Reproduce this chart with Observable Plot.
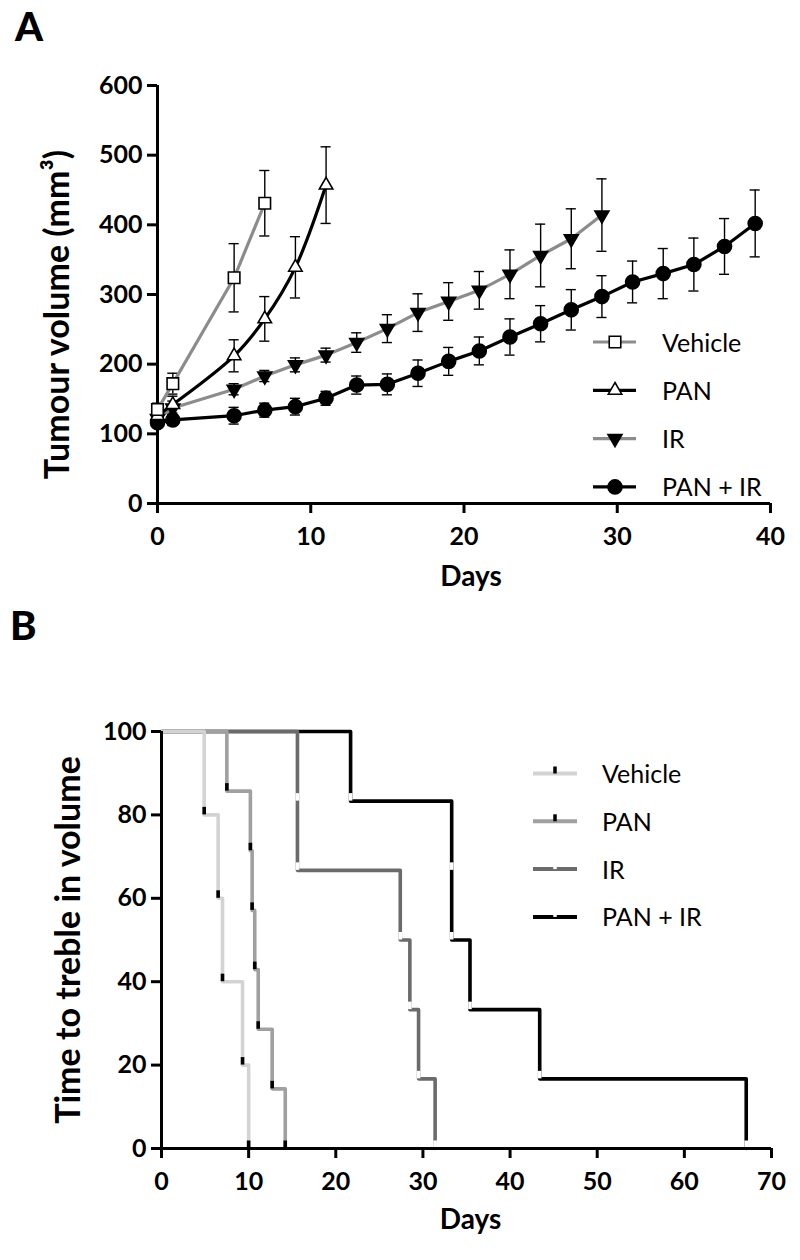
<!DOCTYPE html>
<html><head><meta charset="utf-8">
<script src="https://cdn.jsdelivr.net/npm/d3@7"></script>
<script src="https://cdn.jsdelivr.net/npm/@observablehq/plot@0.6"></script>
<style>
body{margin:0;background:#fff;}
#wrap{position:relative;width:800px;height:1260px;font-family:Lato, sans-serif;overflow:hidden;background:#fff;}
.panel{position:absolute;left:0;}
.tag{position:absolute;font-weight:900;font-size:40px;line-height:1;color:#000;}
#overlay{position:absolute;left:0;top:0;pointer-events:none;}
</style></head><body>
<div id="wrap">
  <div id="chartA" class="panel" style="top:0"></div>
  <div id="chartB" class="panel" style="top:620px"></div>
  <div class="tag" style="left:15px;top:6px">A</div>
  <div class="tag" style="left:10px;top:605px">B</div>
</div>
<script>
// ---------------- Panel A data ----------------
const groupNames = ["Vehicle", "PAN", "IR", "PAN + IR"];

const daysVehicle = [0, 1, 5, 7];
const volVehicle  = [135, 172, 324, 431];
const errVehicle  = [9, 15, 49, 47];

const daysPAN = [0, 1, 5, 7, 9, 11];
const volPAN  = [126, 142, 212, 265, 339, 457];
const errPAN  = [8, 12, 23, 32, 44, 55];

const daysIR = [0, 1, 5, 7, 9, 11, 13, 15, 17, 19, 21, 23, 25, 27, 29];
const volIR  = [122, 137, 164, 183, 199, 213, 231, 251, 274, 290, 306, 329, 356, 380, 414];
const errIR  = [8, 10, 8, 8, 10, 10, 14, 20, 27, 27, 27, 35, 45, 43, 52];

const daysPANIR = [0, 1, 5, 7, 9, 11, 13, 15, 17, 19, 21, 23, 25, 27, 29, 31, 33, 35, 37, 39];
const volPANIR  = [116, 120, 126, 134, 139, 151, 170, 171, 187, 204, 219, 239, 258, 278, 297, 318, 330, 343, 369, 402];
const errPANIR  = [6, 8, 12, 10, 12, 10, 13, 15, 19, 20, 20, 26, 26, 29, 30, 30, 36, 38, 40, 48];

const xTicksA = [0, 10, 20, 30, 40];
const yTicksA = [0, 100, 200, 300, 400, 500, 600];

// ---------------- Panel B data ----------------
const kmDaysVehicle   = [0, 4.9, 6.5, 7.0, 9.3, 10.0];
const kmLevelsVehicle = [100, 80, 60, 40, 20, 0];

const kmDaysPAN   = [0, 7.5, 10.2, 10.4, 10.7, 11.1, 12.7, 14.2];
const kmLevelsPAN = [100, 85.7, 71.4, 57.1, 42.9, 28.6, 14.3, 0];

const kmDaysIR   = [0, 15.6, 15.6, 27.4, 28.5, 29.5, 31.4];
const kmLevelsIR = [100, 83.3, 66.7, 50, 33.3, 16.7, 0];

const kmDaysPANIR   = [0, 21.7, 33.3, 33.3, 35.4, 43.4, 67.1];
const kmLevelsPANIR = [100, 83.3, 66.7, 50, 33.3, 16.7, 0];

const xTicksB = [0, 10, 20, 30, 40, 50, 60, 70];
const yTicksB = [0, 20, 40, 60, 80, 100];

// ---------------- styling ----------------
const triangleDown = {
  draw(context, size) {
    const s3 = Math.sqrt(3);
    const y = -Math.sqrt(size / (s3 * 3));
    context.moveTo(0, -y * 2);
    context.lineTo(-s3 * y, y);
    context.lineTo(s3 * y, y);
    context.closePath();
  }
};

const seriesA = [
  {name: groupNames[0], days: daysVehicle, vol: volVehicle, err: errVehicle, line: "#8c8c8c", symbol: "square", fill: "white", r: 6.5, curve: "linear"},
  {name: groupNames[1], days: daysPAN, vol: volPAN, err: errPAN, line: "#000000", symbol: "triangle", fill: "white", r: 5, curve: "catmull-rom"},
  {name: groupNames[2], days: daysIR, vol: volIR, err: errIR, line: "#8c8c8c", symbol: triangleDown, fill: "black", r: 5.2, curve: "linear"},
  {name: groupNames[3], days: daysPANIR, vol: volPANIR, err: errPANIR, line: "#000000", symbol: "circle", fill: "black", r: 7, curve: "linear"}
];

const seriesB = [
  {name: groupNames[0], days: kmDaysVehicle, levels: kmLevelsVehicle, color: "#d3d3d3", mark: "black"},
  {name: groupNames[1], days: kmDaysPAN, levels: kmLevelsPAN, color: "#a0a0a0", mark: "black"},
  {name: groupNames[2], days: kmDaysIR, levels: kmLevelsIR, color: "#6b6b6b", mark: "white"},
  {name: groupNames[3], days: kmDaysPANIR, levels: kmLevelsPANIR, color: "#000000", mark: "white"}
];

const capHalf = 0.33;
const baseStyle = {fontFamily: "Lato, sans-serif", fontSize: "25px", fontWeight: "bold", color: "black", background: "white", overflow: "visible"};

// ---------------- Panel A ----------------
const marksA = [];
const drawOrder = [...seriesA].reverse();
for (const s of drawOrder) {
  const rows = s.days.map((d, i) => ({day: d, v: s.vol[i], e: s.err[i]}));
  marksA.push(
    Plot.ruleX(rows, {x: "day", y1: d => d.v - d.e, y2: d => d.v + d.e, stroke: "black", strokeWidth: 1.4}),
    Plot.ruleY(rows, {y: d => d.v + d.e, x1: d => d.day - capHalf, x2: d => d.day + capHalf, stroke: "black", strokeWidth: 1.4}),
    Plot.ruleY(rows, {y: d => d.v - d.e, x1: d => d.day - capHalf, x2: d => d.day + capHalf, stroke: "black", strokeWidth: 1.4})
  );
}
for (const s of drawOrder) {
  const rows = s.days.map((d, i) => ({day: d, v: s.vol[i]}));
  marksA.push(Plot.line(rows, {x: "day", y: "v", stroke: s.line, strokeWidth: 3.2, curve: s.curve}));
}
for (const s of drawOrder) {
  const rows = s.days.map((d, i) => ({day: d, v: s.vol[i]}));
  marksA.push(Plot.dot(rows, {x: "day", y: "v", symbol: s.symbol, r: s.r, fill: s.fill, stroke: "black", strokeWidth: 1.6}));
}

const plotA = Plot.plot({
  width: 800, height: 610,
  marginLeft: 157, marginRight: 30, marginTop: 85, marginBottom: 107,
  x: {domain: [0, 40]},
  y: {domain: [0, 600]},
  style: baseStyle,
  marks: [
    Plot.ruleX([0], {strokeWidth: 3}),
    Plot.ruleY([0], {strokeWidth: 3}),
    Plot.axisX({ticks: xTicksA, tickSize: 10, tickPadding: 14, strokeWidth: 3, label: null, fontSize: 25, fontWeight: "bold"}),
    Plot.axisY({ticks: yTicksA, tickSize: 10, tickPadding: 5, strokeWidth: 3, label: null, fontSize: 25, fontWeight: "bold"}),
    ...marksA,
    Plot.text(["Tumour volume (mm³)"], {text: d => d, frameAnchor: "left", textAnchor: "middle", rotate: -90, dx: -99, dy: 20, fontSize: 34, fontWeight: "bold"}),
    Plot.text(["Days"], {text: d => d, frameAnchor: "bottom", textAnchor: "middle", dx: 7, dy: 82, fontSize: 28, fontWeight: "bold"})
  ]
});
document.getElementById("chartA").appendChild(plotA);

// ---------------- Panel B ----------------
const marksB = [];
for (const s of [...seriesB].reverse()) {
  const pts = s.days.map((d, i) => ({day: d, level: s.levels[i]}));
  marksB.push(
    Plot.line(pts, {x: "day", y: "level", curve: "step-after", stroke: s.color, strokeWidth: 3.6}),
    Plot.ruleX(pts.slice(1), {x: "day", y1: "level", y2: d => d.level + 1.8, stroke: s.mark, strokeWidth: 3.6})
  );
}

const plotB = Plot.plot({
  width: 800, height: 640,
  marginLeft: 161, marginRight: 29, marginTop: 111, marginBottom: 112,
  x: {domain: [0, 70]},
  y: {domain: [0, 100]},
  style: baseStyle,
  marks: [
    ...marksB,
    Plot.ruleX([0], {strokeWidth: 3}),
    Plot.ruleY([0], {strokeWidth: 3}),
    Plot.axisX({ticks: xTicksB, tickSize: 10, tickPadding: 14, strokeWidth: 3, label: null, fontSize: 25, fontWeight: "bold"}),
    Plot.axisY({ticks: yTicksB, tickSize: 10, tickPadding: 5, strokeWidth: 3, label: null, fontSize: 25, fontWeight: "bold"}),
    Plot.text(["Time to treble in volume"], {text: d => d, frameAnchor: "left", textAnchor: "middle", rotate: -90, dx: -92, dy: 0, fontSize: 34, fontWeight: "bold"}),
    Plot.text(["Days"], {text: d => d, frameAnchor: "bottom", textAnchor: "middle", dx: 4, dy: 80, fontSize: 28, fontWeight: "bold"})
  ]
});
document.getElementById("chartB").appendChild(plotB);

// ---------------- Legends (overlay) ----------------
const ov = d3.select("#wrap").append("svg").attr("id", "overlay")
  .attr("width", 800).attr("height", 1260)
  .style("font-family", "Lato, sans-serif");

const legA = {x0: 593, x1: 636, xm: 615, xt: 662, y0: 342, step: 48.3};
seriesA.forEach((s, i) => {
  const y = legA.y0 + i * legA.step;
  ov.append("line").attr("x1", legA.x0).attr("x2", legA.x1).attr("y1", y).attr("y2", y)
    .attr("stroke", s.line).attr("stroke-width", 3.2);
  ov.append("path").attr("transform", `translate(${legA.xm},${y})`)
    .attr("d", d3.symbol(typeof s.symbol === "string" ? {square: d3.symbolSquare, triangle: d3.symbolTriangle, circle: d3.symbolCircle}[s.symbol] : s.symbol, Math.PI * s.r * s.r)())
    .attr("fill", s.fill).attr("stroke", "black").attr("stroke-width", 1.6);
  ov.append("text").attr("x", legA.xt).attr("y", y + 9.5).attr("font-size", 25).text(s.name);
});

const legB = {x0: 533, x1: 577, xm: 555, xt: 602, y0: 773.5, step: 47.8};
seriesB.forEach((s, i) => {
  const y = legB.y0 + i * legB.step;
  ov.append("line").attr("x1", legB.x0).attr("x2", legB.x1).attr("y1", y).attr("y2", y)
    .attr("stroke", s.color).attr("stroke-width", 4);
  const h = s.mark === "black" ? 7 : 2.2;
  ov.append("line").attr("x1", legB.xm).attr("x2", legB.xm).attr("y1", y).attr("y2", y - h)
    .attr("stroke", s.mark).attr("stroke-width", 3.5);
  ov.append("text").attr("x", legB.xt).attr("y", y + 9.5).attr("font-size", 25).text(s.name);
});
</script>
</body></html>
